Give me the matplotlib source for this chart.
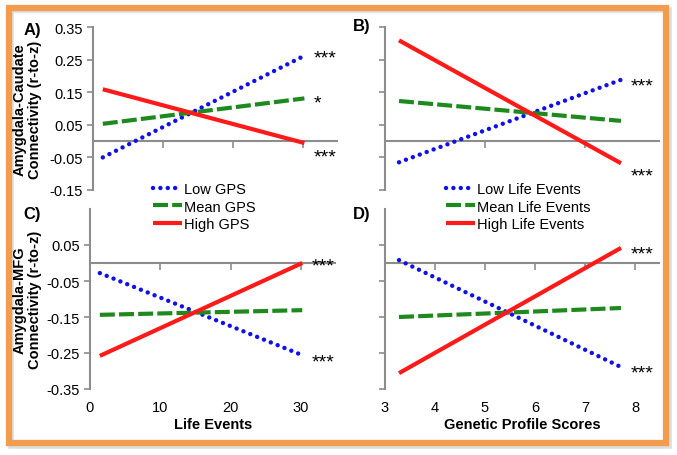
import matplotlib.pyplot as plt
from matplotlib.patches import Rectangle
from matplotlib.lines import Line2D, TICKDOWN

plt.rcParams['font.family'] = ['Liberation Sans', 'DejaVu Sans']

# panel A / C: x = life events
life_x = [1.4, 30.2]
caudate_low_gps = [-0.050, 0.262]
caudate_mean_gps = [0.053, 0.131]
caudate_high_gps = [0.159, -0.006]
mfg_low_gps = [-0.028, -0.256]
mfg_mean_gps = [-0.144, -0.131]
mfg_high_gps = [-0.258, 0.000]

# panel B / D: x = genetic profile scores
gps_x = [3.28, 7.72]
caudate_low_le = [-0.065, 0.188]
caudate_mean_le = [0.123, 0.062]
caudate_high_le = [0.309, -0.068]
mfg_low_le = [0.008, -0.289]
mfg_mean_le = [-0.150, -0.125]
mfg_high_le = [-0.306, 0.042]

gps_labels = ["Low GPS", "Mean GPS", "High GPS"]
le_labels = ["Low Life Events", "Mean Life Events", "High Life Events"]

blue = '#1010E8'
green = '#1E8A1E'
red = '#FF1A1A'
gray = '#8C8C8C'
styles = [
    dict(color=blue, lw=3.2, linestyle=(0, (0.01, 1.65)), dash_capstyle='round'),
    dict(color=green, lw=3, linestyle=(0, (3.6, 1.0)), dash_capstyle='butt'),
    dict(color=red, lw=3, linestyle='-', solid_capstyle='butt'),
]

W, H = 677, 456
fig = plt.figure(figsize=(W / 100, H / 100), dpi=100)


def px_axes(x0, x1, y0, y1):
    # pixel box -> figure fraction
    return fig.add_axes([x0 / W, 1 - y1 / H, (x1 - x0) / W, (y1 - y0) / H])


axA = px_axes(93, 338, 28, 191)
axB = px_axes(385, 660, 28, 191)
axC = px_axes(90, 336, 210, 390)
axD = px_axes(385, 660, 210, 390)

panels = [
    (axA, life_x, [caudate_low_gps, caudate_mean_gps, caudate_high_gps], (0, 35), (-0.15, 0.35), [10, 20, 30], True, []),
    (axB, gps_x, [caudate_low_le, caudate_mean_le, caudate_high_le], (3, 8.5), (-0.15, 0.35), [5, 7], False, []),
    (axC, life_x, [mfg_low_gps, mfg_mean_gps, mfg_high_gps], (0, 35), (-0.35, 0.15), [10, 20, 30], True, [0, 10, 20, 30]),
    (axD, gps_x, [mfg_low_le, mfg_mean_le, mfg_high_le], (3, 8.5), (-0.35, 0.15), [4, 5, 6, 7, 8], False, [3, 4, 5, 6, 7, 8]),
]

yticks_top = [-0.15, -0.05, 0.05, 0.15, 0.25, 0.35]
yticks_bot = [-0.35, -0.25, -0.15, -0.05, 0.05]

for ax, xs, series, xlim, ylim, zero_ticks, ylabels, bottom in panels:
    # horizontal axis line crossing at zero, with downward tick marks
    ax.axhline(0, color=gray, lw=1.5, zorder=2)
    ax.plot(zero_ticks, [0] * len(zero_ticks), ls='none', marker=TICKDOWN,
            markersize=5, mew=1.2, color=gray, zorder=2, clip_on=False)
    for ys, st in zip(series, styles):
        ax.plot(xs, ys, **st, zorder=3)
    ax.set_xlim(*xlim)
    ax.set_ylim(*ylim)
    for s in ['top', 'right', 'bottom']:
        ax.spines[s].set_visible(False)
    ax.spines['left'].set_color(gray)
    ax.spines['left'].set_linewidth(1.5)
    ax.set_yticks(yticks_top if ylim[1] > 0.3 else yticks_bot)
    ax.tick_params(axis='y', colors=gray, length=4, width=1.2, labelsize=10.5,
                   labelcolor='black', labelleft=ylabels)
    if ylabels:
        ax.set_yticklabels([f"{v:.2f}" for v in ax.get_yticks()])
    ax.set_xticks(bottom)
    ax.tick_params(axis='x', length=0, labelsize=10.5, pad=8)
    ax.set_facecolor('none')

axC.set_xlabel("Life Events", fontweight='bold', fontsize=10.5, labelpad=2)
axD.set_xlabel("Genetic Profile Scores", fontweight='bold', fontsize=10.5, labelpad=2)

fig.text(27 / W, 1 - 110 / H, "Amygdala-Caudate\nConnectivity (r-to-z)", rotation=90,
         ha='center', va='center', fontweight='bold', fontsize=10.5, linespacing=1.1)
fig.text(27 / W, 1 - 300 / H, "Amygdala-MFG\nConnectivity (r-to-z)", rotation=90,
         ha='center', va='center', fontweight='bold', fontsize=10.5, linespacing=1.1)

for lab, x, y in [("A)", 32, 30), ("B)", 362, 26), ("C)", 32, 215), ("D)", 362, 215)]:
    fig.text(x / W, 1 - y / H, lab, ha='center', va='center', fontweight='bold', fontsize=12)


def stars(ax, x, y, s):
    ax.annotate(s, (x, y), xytext=(7, -2), textcoords='offset points', ha='left',
                va='center', fontsize=14, annotation_clip=False)


stars(axA, life_x[1], caudate_low_gps[1], "***")
stars(axA, life_x[1], caudate_mean_gps[1] - 0.005, "*")
stars(axA, life_x[1], caudate_high_gps[1] - 0.035, "***")
stars(axB, gps_x[1], caudate_low_le[1] - 0.01, "***")
stars(axB, gps_x[1], caudate_high_le[1] - 0.03, "***")
stars(axC, life_x[1], mfg_high_gps[1], "***")
stars(axC, life_x[1], mfg_low_gps[1] - 0.01, "***")
stars(axD, gps_x[1], mfg_high_le[1] - 0.01, "***")
stars(axD, gps_x[1], mfg_low_le[1] - 0.01, "***")

handles = [Line2D([], [], **st) for st in styles]
fig.legend(handles, gps_labels, loc='upper left', bbox_to_anchor=(150 / W, 1 - 180 / H),
           frameon=True, edgecolor='none', facecolor='white', framealpha=1,
           fontsize=10.5, handlelength=2.0, handletextpad=0.1, labelspacing=0.25,
           borderpad=0.2, borderaxespad=0)
fig.legend(handles, le_labels, loc='upper left', bbox_to_anchor=(443 / W, 1 - 180 / H),
           frameon=True, edgecolor='none', facecolor='white', framealpha=1,
           fontsize=10.5, handlelength=2.0, handletextpad=0.1, labelspacing=0.25,
           borderpad=0.2, borderaxespad=0)

# orange frame with a soft shadow
fig.patches.append(Rectangle((11 / W, 1 - 447 / H), 658 / W, 436 / H, transform=fig.transFigure,
                             fill=False, edgecolor='#DDDDDD', lw=4, zorder=-2))
fig.patches.append(Rectangle((9 / W, 1 - 444 / H), 657 / W, 435 / H, transform=fig.transFigure,
                             fill=False, edgecolor='#F39C4E', lw=4.5, zorder=-1))

fig.savefig("out.png", dpi=100, facecolor='white')
